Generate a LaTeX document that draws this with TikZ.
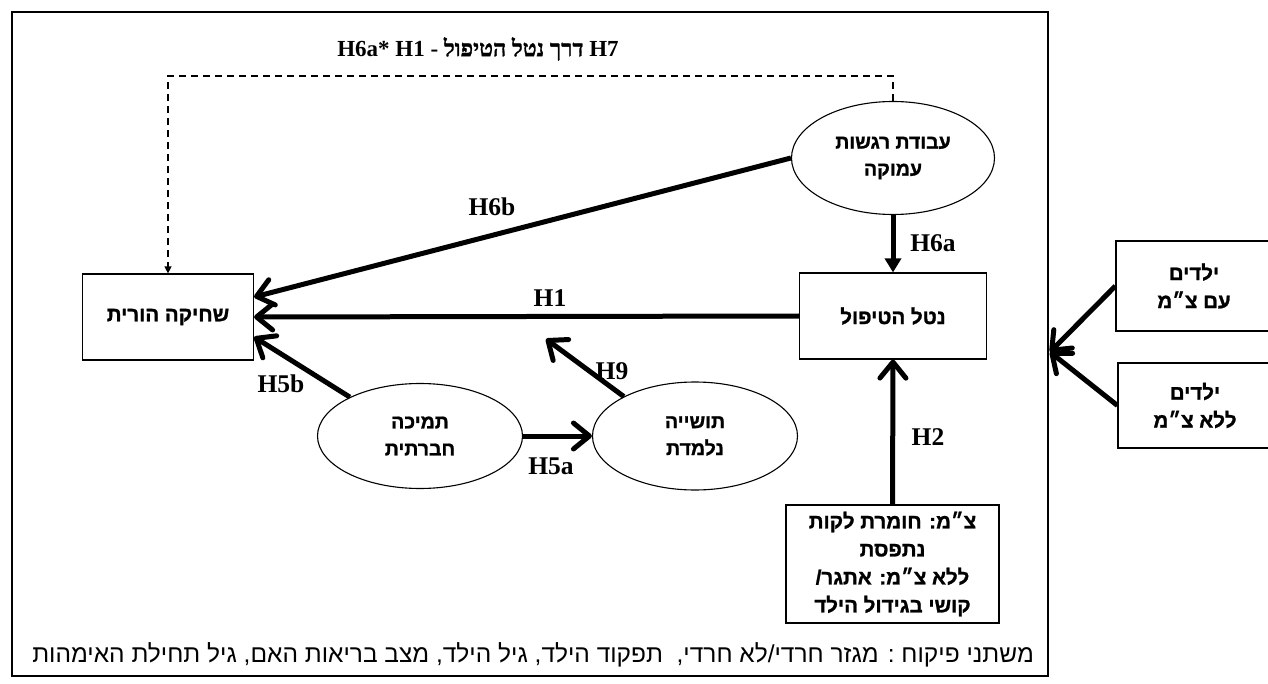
\documentclass[tikz,border=0pt]{standalone}
\usepackage{fontspec}
\setmainfont{Liberation Serif}
\newfontfamily\hesans[Script=Hebrew,BoldFeatures={FakeBold=1.2}]{Liberation Sans}
\newfontfamily\heserif[Script=Hebrew,BoldFeatures={FakeBold=1.2}]{Liberation Serif}
\TeXXeTstate=1
\usetikzlibrary{shapes.geometric,arrows.meta,calc}
% one right-to-left run of Hebrew text
\newcommand\heb[1]{{\hesans\beginR #1\endR}}
\newcommand\hebs[1]{{\heserif\beginR #1\endR}}
\begin{document}
\begin{tikzpicture}[x=1pt,y=-1pt,
  boxnode/.style={draw,line width=1.2pt,inner sep=0pt,align=center,
    font=\hesans\bfseries\fontsize{20.5}{28}\selectfont},
  ovalnode/.style={draw,ellipse,line width=1.1pt,inner sep=0pt,align=center,
    font=\hesans\bfseries\fontsize{19.5}{27}\selectfont},
  hyp/.style={font=\bfseries\fontsize{25.5}{28}\selectfont,inner sep=0pt},
  path/.style={line width=5pt,-{Straight Barb[length=16pt,width=26pt,line cap=round,line join=round]}},
  pathtri/.style={line width=5pt,-{Triangle[length=14pt,width=16pt]}},
  moderate/.style={line width=1.3pt,dash pattern=on 7pt off 5pt,-{Triangle[length=7pt,width=7pt]}}
]
\useasboundingbox (0,0) rectangle (1268,684);
\fill[white] (0,0) rectangle (1268,684);

% outer frame of the model
\draw[line width=2pt] (12,12) rectangle (1048,676);

% variables of the model
\node[boxnode,minimum width=171pt,minimum height=86pt] (burn) at (168,317) {\heb{שחיקה הורית}};
\node[boxnode,minimum width=187pt,minimum height=86pt] (load) at (893,316) {\heb{נטל הטיפול}};
\node[ovalnode,minimum width=203pt,minimum height=113pt] (emo) at (893,158) {\heb{עבודת רגשות}\\\heb{עמוקה}};
\node[ovalnode,minimum width=205pt,minimum height=105pt] (social) at (420,436) {\heb{תמיכה}\\\heb{חברתית}};
\node[ovalnode,minimum width=205pt,minimum height=108pt] (teach) at (695,436) {\heb{תושייה}\\\heb{נלמדת}};
\node[boxnode,minimum width=213pt,minimum height=118pt] (stress) at (892.5,564) {\heb{צ״מ: חומרת לקות}\\\heb{נתפסת}\\\heb{ללא צ״מ: אתגר/}\\\heb{קושי בגידול הילד}};

% the two groups of children
\node[boxnode,minimum width=156pt,minimum height=90pt] (kidsA) at (1194,286) {\heb{ילדים}\\\heb{עם צ״מ}};
\node[boxnode,minimum width=154pt,minimum height=85pt] (kidsB) at (1195,405.5) {\heb{ילדים}\\\heb{ללא צ״מ}};

% free ends
\coordinate (frameR) at (1050,352);
\coordinate (h9end) at (546,339);
\coordinate (dtop) at (500,76);

% paths
\draw[path] (emo.west) -- ($(burn.east)+(0,-20)$);
\draw[path] (load.west) -- (burn.east);
\draw[path] (social.151) -- ($(burn.east)+(0,20)$);
\draw[path] (teach.151) -- (h9end);
\draw[path] (social.east) -- (teach.west);
\draw[pathtri] (emo.south) -- (load.north);
\draw[path] (stress.north) -- (load.south);
\draw[moderate] (emo.north) |- (dtop) -| (burn.north);
\draw[path] (kidsA.west) -- (frameR);
\draw[path] (kidsB.west) -- (frameR);

% hypothesis labels
\node[hyp] (lH6b) at (492,207) {H6b};
\node[hyp] (lH1) at (550,298) {H1};
\node[hyp] (lH9) at (612,371) {H9};
\node[hyp] (lH5b) at (281,384) {H5b};
\node[hyp] (lH5a) at (551,466) {H5a};
\node[hyp] (lH6a) at (933,243) {H6a};
\node[hyp] (lH2) at (928,437) {H2};
\node[inner sep=0pt,font=\bfseries\fontsize{23}{26}\selectfont] (lH7) at (478,49)
  {H6a* H1 - \hebs{\bfseries דרך נטל הטיפול} H7};

% control variables
\node[inner sep=0pt,font=\fontsize{24.5}{28}\selectfont] (controls) at (533,655)
  {\heb{משתני פיקוח : מגזר חרדי/לא חרדי,\ \ תפקוד הילד, גיל הילד, מצב בריאות האם, גיל תחילת האימהות}};
\end{tikzpicture}
\end{document}
